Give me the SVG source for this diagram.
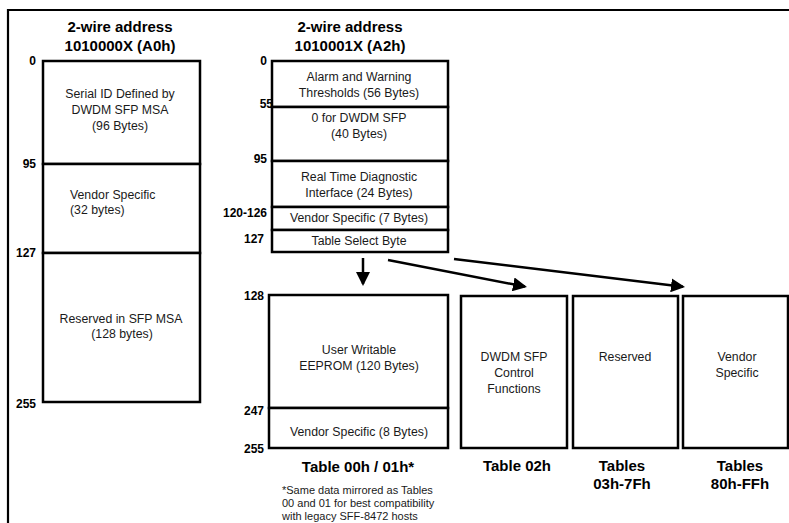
<svg xmlns="http://www.w3.org/2000/svg" width="789" height="523" viewBox="0 0 789 523">
<style>
.box{fill:#fff;stroke:#000;stroke-width:2.5}
.t{font-family:"Liberation Sans",Arial,sans-serif;font-size:12.3px;fill:#1a1a1a;text-anchor:middle}
.tl{font-family:"Liberation Sans",Arial,sans-serif;font-size:12.3px;fill:#1a1a1a}
.h{font-family:"Liberation Sans",Arial,sans-serif;font-size:15px;font-weight:bold;fill:#000;text-anchor:middle}
.n{font-family:"Liberation Sans",Arial,sans-serif;font-size:12px;font-weight:bold;fill:#000;text-anchor:end}
.f{font-family:"Liberation Sans",Arial,sans-serif;font-size:11px;fill:#1a1a1a}
.c{fill:none;stroke:#000;stroke-width:2.5}
</style>
<defs>
<marker id="ah" viewBox="0 0 14 14" refX="12" refY="7" markerWidth="14" markerHeight="14" markerUnits="userSpaceOnUse" orient="auto">
<path d="M0,0 L14,7 L0,14 z" fill="#000"/>
</marker>
</defs>
<rect width="789" height="523" fill="#fff"/>
<path d="M8,523 V10 H789" fill="none" stroke="#000" stroke-width="2.2"/>

<g id="a0-header">
<text class="h" x="120" y="32">2-wire address</text>
<text class="h" x="120" y="51">1010000X (A0h)</text>
</g>
<g id="a0-labels">
<text class="n" x="36" y="65">0</text>
<text class="n" x="36" y="168">95</text>
<text class="n" x="36" y="257">127</text>
<text class="n" x="36" y="408">255</text>
</g>
<g id="a0-serial">
<rect class="box" x="43" y="61" width="157" height="103"/>
<text class="t" x="120" y="98">Serial ID Defined by</text>
<text class="t" x="120" y="114">DWDM SFP MSA</text>
<text class="t" x="120" y="130">(96 Bytes)</text>
</g>
<g id="a0-vendor">
<rect class="box" x="43" y="164" width="157" height="89"/>
<text class="tl" x="70" y="199">Vendor Specific</text>
<text class="tl" x="70" y="214">(32 bytes)</text>
</g>
<g id="a0-reserved">
<rect class="box" x="43" y="253" width="157" height="149"/>
<text class="t" x="121" y="323">Reserved in SFP MSA</text>
<text class="t" x="122" y="338">(128 bytes)</text>
</g>

<g id="a2-header">
<text class="h" x="350" y="32">2-wire address</text>
<text class="h" x="350" y="51">1010001X (A2h)</text>
</g>
<g id="a2-labels">
<text class="n" x="267" y="65">0</text>
<text class="n" x="273" y="108">55</text>
<text class="n" x="267" y="163">95</text>
<text class="n" x="267" y="217">120-126</text>
<text class="n" x="264" y="243">127</text>
</g>
<g id="a2-alarm">
<rect class="box" x="272" y="61" width="176" height="46"/>
<text class="t" x="359" y="81">Alarm and Warning</text>
<text class="t" x="359" y="97">Thresholds (56 Bytes)</text>
</g>
<g id="a2-zero">
<rect class="box" x="272" y="107" width="176" height="54"/>
<text class="t" x="359" y="122">0 for DWDM SFP</text>
<text class="t" x="359" y="138">(40 Bytes)</text>
</g>
<g id="a2-diag">
<rect class="box" x="272" y="161" width="176" height="46"/>
<text class="t" x="359" y="181">Real Time Diagnostic</text>
<text class="t" x="359" y="197">Interface (24 Bytes)</text>
</g>
<g id="a2-vendor">
<rect class="box" x="272" y="207" width="176" height="23"/>
<text class="t" x="359" y="222">Vendor Specific (7 Bytes)</text>
</g>
<g id="a2-select">
<rect class="box" x="272" y="230" width="176" height="22"/>
<text class="t" x="359" y="245">Table Select Byte</text>
</g>

<g id="connectors">
<line class="c" x1="363" y1="258" x2="363" y2="284" marker-end="url(#ah)"/>
<line class="c" x1="388" y1="260" x2="525" y2="286.6" marker-end="url(#ah)"/>
<line class="c" x1="454" y1="259" x2="683" y2="286.8" marker-end="url(#ah)"/>
</g>

<g id="table00-labels">
<text class="n" x="264" y="300">128</text>
<text class="n" x="264" y="415">247</text>
<text class="n" x="264" y="453">255</text>
</g>
<g id="table00-eeprom">
<rect class="box" x="269" y="295" width="179" height="113"/>
<text class="t" x="359" y="354">User Writable</text>
<text class="t" x="359" y="370">EEPROM (120 Bytes)</text>
</g>
<g id="table00-vendor">
<rect class="box" x="269" y="408" width="179" height="40"/>
<text class="t" x="359" y="436">Vendor Specific (8 Bytes)</text>
</g>
<g id="table00-caption">
<text class="h" x="358" y="472">Table 00h / 01h*</text>
<text class="f" x="282" y="494">*Same data mirrored as Tables</text>
<text class="f" x="282" y="507">00 and 01 for best compatibility</text>
<text class="f" x="282" y="520">with legacy SFF-8472 hosts</text>
</g>

<g id="table02">
<rect class="box" x="461" y="296" width="106" height="152"/>
<text class="t" x="514" y="361">DWDM SFP</text>
<text class="t" x="514" y="377">Control</text>
<text class="t" x="514" y="393">Functions</text>
<text class="h" x="517" y="471">Table 02h</text>
</g>
<g id="table03-7f">
<rect class="box" x="573" y="296" width="105" height="152"/>
<text class="t" x="625" y="361">Reserved</text>
<text class="h" x="622" y="471">Tables</text>
<text class="h" x="622" y="489">03h-7Fh</text>
</g>
<g id="table80-ff">
<rect class="box" x="683" y="296" width="105" height="152"/>
<text class="t" x="737" y="361">Vendor</text>
<text class="t" x="737" y="377">Specific</text>
<text class="h" x="740" y="471">Tables</text>
<text class="h" x="740" y="489">80h-FFh</text>
</g>
</svg>
